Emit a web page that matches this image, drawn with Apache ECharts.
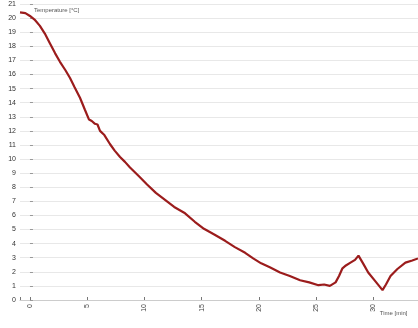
<!DOCTYPE html>
<html>
<head>
<meta charset="utf-8">
<script src="https://cdn.jsdelivr.net/npm/echarts@6/dist/echarts.min.js"></script>
<style>
  html, body { margin: 0; padding: 0; background: #fff; }
  #chart { width: 418px; height: 328px; }
</style>
</head>
<body>
<div id="chart"></div>
<script>
// Cooling curve: time in minutes, temperature in °C
const timeMin = [-0.87, -0.4, 0.0, 0.4, 0.87, 1.3, 1.75, 2.2, 2.62, 3.1, 3.5, 3.9, 4.37, 4.8, 5.16, 5.4, 5.68, 5.9, 6.12, 6.5, 7.0, 7.4, 7.87, 8.3, 8.74, 9.5, 10.23, 11.0, 11.8, 12.6, 13.55, 14.4, 15.2, 16.1, 17.05, 17.9, 18.8, 19.5, 20.2, 21.0, 21.85, 22.7, 23.6, 24.4, 25.2, 25.7, 26.2, 26.7, 27.0, 27.3, 27.6, 28.0, 28.4, 28.7, 29.1, 29.55, 30.2, 30.8, 31.1, 31.5, 32.1, 32.8, 33.4, 33.9];
const tempC   = [20.4, 20.35, 20.15, 19.9, 19.45, 18.9, 18.2, 17.5, 16.9, 16.3, 15.75, 15.1, 14.35, 13.5, 12.8, 12.7, 12.5, 12.45, 12.0, 11.7, 11.05, 10.6, 10.15, 9.8, 9.4, 8.8, 8.2, 7.6, 7.1, 6.6, 6.15, 5.55, 5.05, 4.65, 4.2, 3.75, 3.35, 2.95, 2.6, 2.3, 1.95, 1.7, 1.4, 1.25, 1.05, 1.1, 1.0, 1.25, 1.7, 2.25, 2.45, 2.65, 2.85, 3.15, 2.6, 1.95, 1.3, 0.7, 1.1, 1.7, 2.2, 2.65, 2.8, 2.95];
const yTicks = { min: 0, max: 21, step: 1 };
const xTicks = { min: -0.87, max: 33.9, step: 5 };

const chart = echarts.init(document.getElementById('chart'));
chart.setOption({
  animation: false,
  backgroundColor: '#ffffff',
  grid: { left: 20, right: 0, top: 4, bottom: 28 },
  xAxis: {
    type: 'value',
    min: xTicks.min, max: xTicks.max,
    splitNumber: 7,
    name: 'Time [min]',
    nameLocation: 'end',
    nameGap: -40,
    nameTextStyle: { fontSize: 6, color: '#555', verticalAlign: 'top', padding: [10, 0, 0, 0] },
    axisLine: { show: true, lineStyle: { color: '#ccc' } },
    axisTick: { show: true, inside: true, length: 3, lineStyle: { color: '#777' } },
    axisLabel: { fontSize: 7, color: '#444', rotate: 90, margin: 4,
      formatter: v => (v % xTicks.step === 0 ? String(v) : '') },
    splitLine: { show: false }
  },
  yAxis: {
    type: 'value',
    min: yTicks.min, max: yTicks.max, interval: yTicks.step,
    name: 'Temperature [°C]',
    nameLocation: 'end',
    nameGap: -9,
    nameTextStyle: { fontSize: 6, color: '#555', align: 'left', padding: [0, 0, 0, 4] },
    axisLine: { show: false },
    axisTick: { show: true, inside: true, length: 3, lineStyle: { color: '#999' } },
    axisLabel: { fontSize: 7, color: '#333', margin: 4 },
    splitLine: { show: true, lineStyle: { color: '#e8e8e8', width: 1 } }
  },
  series: [{
    type: 'line',
    data: timeMin.map((t, i) => [t, tempC[i]]),
    showSymbol: false,
    smooth: false,
    lineStyle: { color: '#9b1c1c', width: 2.2 }
  }]
});
</script>
</body>
</html>
